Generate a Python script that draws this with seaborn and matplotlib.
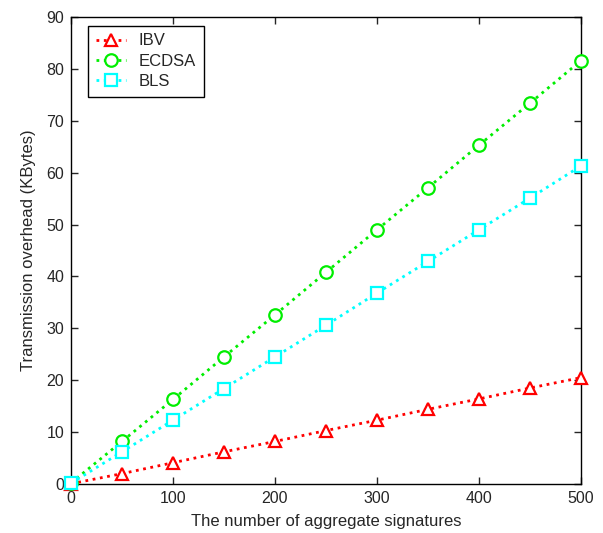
import matplotlib
matplotlib.use("Agg")
import matplotlib.pyplot as plt
import seaborn as sns
import pandas as pd

x = [0, 50, 100, 150, 200, 250, 300, 350, 400, 450, 500]
ibv = [0.05, 2.0, 4.1, 6.2, 8.2, 10.3, 12.3, 14.4, 16.4, 18.5, 20.5]
ecdsa = [0.2, 8.2, 16.3, 24.5, 32.6, 40.8, 49.0, 57.1, 65.3, 73.4, 81.6]
bls = [0.15, 6.2, 12.3, 18.4, 24.5, 30.6, 36.8, 42.9, 49.0, 55.1, 61.3]
names = ["IBV", "ECDSA", "BLS"]
colors = ["#ff0000", "#00ee00", "#00ffff"]
markers = ["^", "o", "s"]

sns.set_style("ticks")
plt.rcParams['font.family'] = ['Liberation Sans', 'DejaVu Sans']

fig = plt.figure(figsize=(6.03, 5.33), dpi=100)
ax = fig.add_axes([71/603, 49/533, 510/603, 467/533])

for name, vals, c, m in zip(names, [ibv, ecdsa, bls], colors, markers):
    df = pd.DataFrame({"x": x, "y": vals})
    sns.lineplot(data=df, x="x", y="y", ax=ax, color=c, linestyle=":", linewidth=2,
                 marker=m, markersize=9, markerfacecolor="white", markeredgecolor=c,
                 markeredgewidth=1.6, label=name, clip_on=False, zorder=3)

ax.set_xlim(0, 500)
ax.set_ylim(0, 90)
ax.set_xticks(range(0, 501, 100))
ax.set_yticks(range(0, 91, 10))
ax.tick_params(direction="in", top=True, right=True, labelsize=11.5, length=5, width=1, pad=5)
for s in ax.spines.values():
    s.set_linewidth(1)
    s.set_color("black")
ax.set_xlabel("The number of aggregate signatures", fontsize=12, labelpad=6)
ax.set_ylabel("Transmission overhead (KBytes)", fontsize=12, labelpad=7)
leg = ax.legend(loc="upper left", bbox_to_anchor=(17/510, 1 - 9/467), borderaxespad=0,
                fontsize=12, frameon=True, fancybox=False, edgecolor="black",
                handlelength=1.8, handletextpad=0.8, labelspacing=0.32, borderpad=0.45,
                framealpha=1)
leg.get_frame().set_linewidth(1)
fig.savefig("out.png", dpi=100, facecolor="white")
